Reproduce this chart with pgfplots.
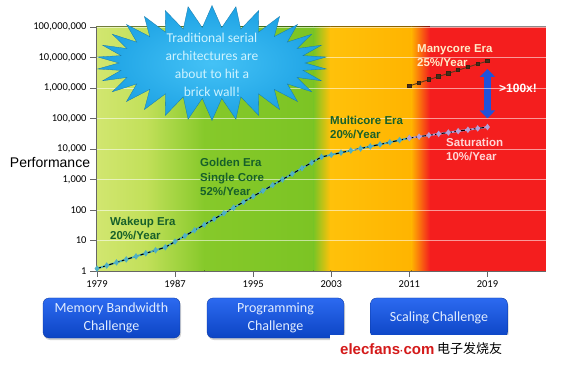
\documentclass[border=0pt]{standalone}
\usepackage{pgfplots}
\pgfplotsset{compat=1.18}
\usepackage{pgfplotstable}
\usepackage{fontspec}
\setmainfont{Carlito}
\newfontfamily\arial{Liberation Sans}
\newfontfamily\cjk{Noto Sans CJK SC}
\usetikzlibrary{shapes.symbols, arrows.meta, shadows}

\definecolor{gA}{HTML}{D2E670}
\definecolor{gB}{HTML}{C2E05A}
\definecolor{gC}{HTML}{86C92A}
\definecolor{gD}{HTML}{7CC424}
\definecolor{oA}{HTML}{FFC10A}
\definecolor{oB}{HTML}{FFB400}
\definecolor{rA}{HTML}{F41E1E}
\definecolor{era}{HTML}{17602A}
\definecolor{teal1}{HTML}{4FB0C4}
\definecolor{purp}{HTML}{B4A0D8}
\definecolor{brn}{HTML}{5A3A1E}
\definecolor{burst}{HTML}{1DA2E4}
\definecolor{burstin}{HTML}{44C2F6}
\definecolor{bursttxt}{HTML}{CDF3FF}
\definecolor{boxtop}{HTML}{2C6AF0}
\definecolor{boxbot}{HTML}{0C44C4}
\definecolor{arr}{HTML}{2052DA}
\definecolor{wm}{HTML}{D41A1A}

\pgfplotstableread{
year perf
1979 1.2
1980 1.51
1981 1.91
1982 2.40
1983 3.02
1984 3.80
1985 4.79
1986 6.0
1987 9.2
1988 14.1
1989 21.6
1990 33
1991 50.7
1992 77.6
1993 119
1994 182
1995 279
1996 427
1997 653
1998 1000
1999 1531
2000 2344
2001 3589
2002 5495
2003 6457
2004 7586
2005 8913
2006 10350
2007 12160
2008 14130
2009 16600
2010 19500
2011 22900
}\mainT

\pgfplotstableread{
year perf
2011 22900
2012 25400
2013 28200
2014 31300
2015 34700
2016 38500
2017 42700
2018 47300
2019 52500
}\satT

\pgfplotstableread{
year perf
2011 1170000
2012 1480000
2013 1880000
2014 2380000
2015 3020000
2016 3830000
2017 4840000
2018 6130000
2019 7600000
}\manyT

\begin{document}
\begin{tikzpicture}
\useasboundingbox (0pt,0pt) rectangle (580pt,369pt);
\fill[white] (0pt,0pt) rectangle (580pt,369pt);
\begin{axis}[
  at={(96pt,98pt)}, anchor=south west, scale only axis,
  width=450pt, height=244pt,
  xmin=1978.9, xmax=2025,
  ymode=log, ymin=1, ymax=1e8,
  axis on top,
  axis x line*=bottom, axis y line*=left,
  axis line style={draw=gray!80!black, line width=0.8pt},
  tick style={draw=gray!80!black, line width=0.6pt},
  tick align=outside, major tick length=6pt, minor tick length=0pt,
  xtick={1979,1987,1995,2003,2011,2019},
  xticklabels={1979,1987,1995,2003,2011,2019},
  ytick={1,10,100,1000,10000,100000,1000000,10000000,100000000},
  yticklabels={1,10,100,{1,000},{10,000},{100,000},{1,000,000},{10,000,000},{100,000,000}},
  tick label style={font=\fontsize{10.5}{12}\selectfont, text=black},
  ymajorgrids, major grid style={white, opacity=0.55, line width=0.6pt},
  clip=false,
]
% background gradient
\fill[left color=gA, right color=gB] (axis cs:1978.9,1) rectangle (axis cs:1984,1e8);
\fill[left color=gB, right color=gC] (axis cs:1984,1) rectangle (axis cs:1990,1e8);
\fill[left color=gC, right color=gD] (axis cs:1990,1) rectangle (axis cs:2001.2,1e8);
\fill[left color=gD, right color=oA] (axis cs:2001.2,1) rectangle (axis cs:2002.9,1e8);
\fill[left color=oA, right color=oB] (axis cs:2002.9,1) rectangle (axis cs:2011.2,1e8);
\fill[left color=oB, right color=rA] (axis cs:2011.2,1) rectangle (axis cs:2013.1,1e8);
\fill[rA] (axis cs:2013.1,1) rectangle (axis cs:2025,1e8);
\draw[black, opacity=0.45, line width=1pt] (axis cs:1978.9,1e8) -- (axis cs:2025,1e8);

% main performance curve
\addplot[teal1, line width=1.8pt, mark=diamond*, mark size=1.8pt, mark options={fill=teal1, draw=teal1}] table[x=year, y=perf] {\mainT};
\addplot[black, line width=1pt, dash pattern=on 4pt off 2.5pt] table[x=year, y=perf] {\mainT};
\addplot[purp, line width=1.8pt, mark=diamond*, mark size=1.8pt, mark options={fill=purp, draw=purp}] table[x=year, y=perf] {\satT};
\addplot[black, line width=1pt, dash pattern=on 4pt off 2.5pt] table[x=year, y=perf] {\satT};
% manycore
\addplot[brn, line width=0.9pt, mark=square*, mark size=1.7pt, mark options={fill=brn!80!black, draw=brn!60!black}] table[x=year, y=perf] {\manyT};

% double arrow
\draw[arr, line width=6.5pt, {Triangle[width=15pt,length=8pt]}-{Triangle[width=15pt,length=8pt]}] (axis cs:2019,4.2e6) -- (axis cs:2019,1.0e5);
\end{axis}

% starburst
\node[starburst, random starburst=0, starburst points=30, starburst point height=22pt, inner color=burstin, outer color=burst, draw=burst!75!black, line width=0.3pt, minimum width=230pt, minimum height=115pt, inner sep=0pt] at (212pt,306pt) {};
\node[text=bursttxt, align=center, font=\fontsize{13.5}{18}\selectfont] at (212pt,304pt) {Traditional serial\\architectures are\\about to hit a\\brick wall!};

% y label
\node[font=\arial\fontsize{14}{16}\selectfont, anchor=center] at (50pt,206pt) {Performance};

% era annotations
\node[anchor=west, align=left, inner sep=0pt, text=era, font=\arial\bfseries\fontsize{11.5}{14}\selectfont] at (110pt,141pt) {Wakeup Era\\20\%/Year};
\node[anchor=west, align=left, inner sep=0pt, text=era, font=\arial\bfseries\fontsize{11.5}{14.5}\selectfont] at (200pt,192pt) {Golden Era\\Single Core\\52\%/Year};
\node[anchor=west, align=left, inner sep=0pt, text=era, font=\arial\bfseries\fontsize{11.5}{14}\selectfont] at (330pt,242pt) {Multicore Era\\20\%/Year};
\node[anchor=west, align=left, inner sep=0pt, text={rgb,255:red,255;green,236;blue,200}, font=\arial\bfseries\fontsize{11.5}{14}\selectfont] at (417pt,313pt) {Manycore Era\\25\%/Year};
\node[anchor=west, align=left, inner sep=0pt, text={rgb,255:red,255;green,215;blue,215}, font=\arial\bfseries\fontsize{11.5}{13.5}\selectfont] at (446pt,219.5pt) {Saturation\\10\%/Year};
\node[anchor=west, inner sep=0pt, text=white, font=\arial\bfseries\fontsize{12}{14}\selectfont] at (499pt,281pt) {>100x!};

% challenge boxes
\tikzset{chal/.style={rounded corners=6pt, minimum width=137pt, minimum height=40pt, top color=boxtop, bottom color=boxbot, draw=boxbot!80!black, line width=0.3pt, text={rgb,255:red,225;green,236;blue,255}, align=center, inner sep=0pt, font=\fontsize{14}{18}\selectfont, drop shadow={opacity=0.35, shadow xshift=1pt, shadow yshift=-2pt}}}
\node[chal] at (111.5pt,51pt) {Memory Bandwidth\\Challenge};
\node[chal] at (275.5pt,51pt) {Programming\\Challenge};
\node[chal] at (439pt,51pt) {Scaling Challenge};

% watermark
\fill[white] (330pt,0pt) rectangle (580pt,34pt);
\node[anchor=west, inner sep=0pt, text=wm, font=\arial\bfseries\fontsize{15}{17}\selectfont] at (340pt,20pt) {elecfans{\fontsize{10}{10}\selectfont·}com};
\node[anchor=west, inner sep=0pt, text=black, font=\cjk\fontsize{13}{15}\selectfont] at (437pt,20pt) {电子发烧友};
\end{tikzpicture}
\end{document}
